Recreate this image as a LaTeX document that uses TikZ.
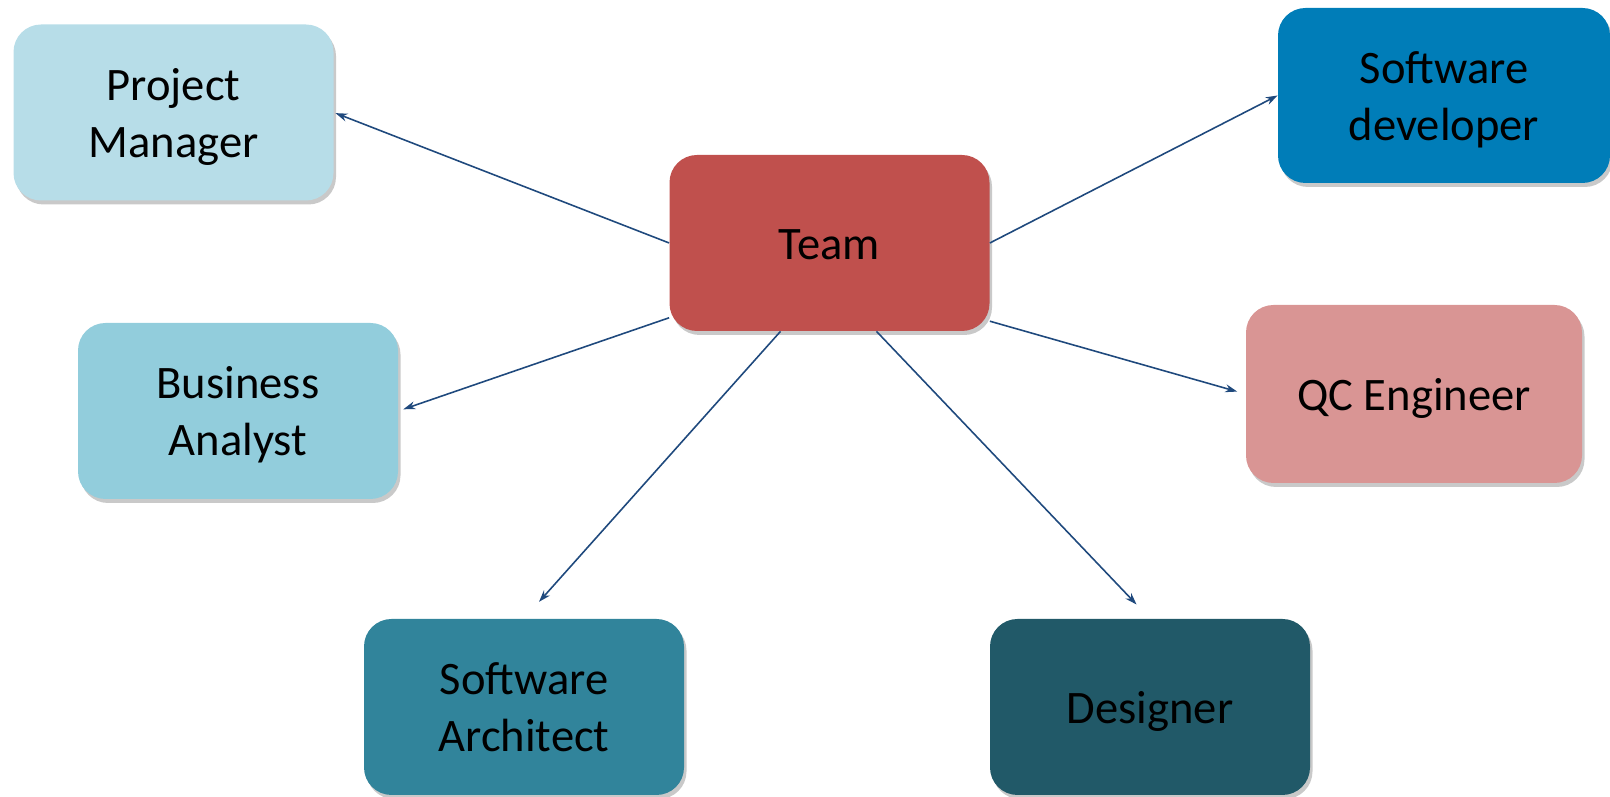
\documentclass[tikz,border=0pt]{standalone}
\usepackage{fontspec}
\setmainfont{Carlito}
\usetikzlibrary{arrows.meta,shadows}
\definecolor{teamcolor}{HTML}{C0504D}
\definecolor{pmcolor}{HTML}{B7DDE8}
\definecolor{bacolor}{HTML}{92CDDC}
\definecolor{devcolor}{HTML}{007DB8}
\definecolor{qccolor}{HTML}{D99594}
\definecolor{archcolor}{HTML}{31849B}
\definecolor{descolor}{HTML}{215968}
\definecolor{linkcolor}{HTML}{1F497D}

\tikzset{
    role/.style={rounded corners=0.55cm, minimum width=6.4cm, minimum height=3.52cm,
        align=center, inner sep=0pt, font=\fontsize{26.5}{32.5}\selectfont,
        text height=24pt, text depth=5pt,
        drop shadow={shadow xshift=0.05cm, shadow yshift=-0.08cm, opacity=0.3, fill=black!70}},
    tworole/.style={role, text height=56pt, text depth=5.2pt},
    link/.style={-{Stealth[length=0.24cm, width=0.16cm]}, color=linkcolor, line width=0.9pt}
}

\begin{document}
\begin{tikzpicture}

    \useasboundingbox (0, 0) rectangle (32.2, 15.94);

    % Centre node
    \node[role, fill=teamcolor] (team) at (16.59, 11.08) {Team};

    % Roles on the left
    \node[tworole, fill=pmcolor] (pm) at (3.47, 13.69) {Project\\Manager};
    \node[tworole, fill=bacolor] (ba) at (4.76, 7.72) {Business\\Analyst};

    % Roles on the right
    \node[tworole, fill=devcolor, minimum width=6.64cm, minimum height=3.5cm] (dev) at (28.88, 14.03) {Software\\developer};
    \node[role, fill=qccolor, minimum width=6.72cm, minimum height=3.56cm] (qc) at (28.28, 8.06) {QC Engineer};

    % Roles at the bottom
    \node[tworole, fill=archcolor] (arch) at (10.48, 1.8) {Software\\Architect};
    \node[role, fill=descolor] (des) at (23.0, 1.8) {Designer};

    % Arrows from team to roles
    \draw[link, shorten >=1pt] (team.west) -- (pm.east);
    \draw[link] (team.east) -- (dev.west);
    \draw[link, shorten >=3pt] (team.205) -- (ba.east);
    \draw[link, shorten >=5pt] (team.334) -- (qc.west);
    \draw[link, shorten >=0.45cm] (team.241.6) -- (arch.north);
    \draw[link, shorten >=0.39cm] (team.298.4) -- (des.north);

\end{tikzpicture}
\end{document}
